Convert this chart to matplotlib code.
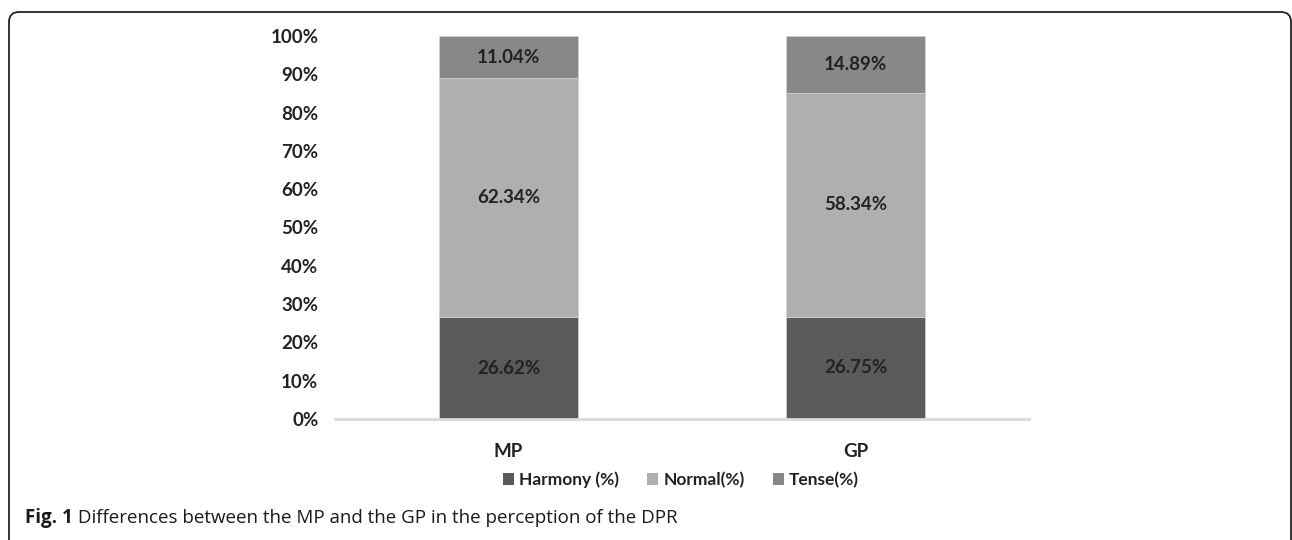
import matplotlib.pyplot as plt
import numpy as np
from matplotlib.patches import FancyBboxPatch, Patch
from matplotlib.transforms import IdentityTransform

groups = ["MP", "GP"]
harmony = [26.62, 26.75]
normal = [62.34, 58.34]
tense = [11.04, 14.89]
series_names = ["Harmony (%)", "Normal(%)", "Tense(%)"]
series_colors = ["#5a5a5a", "#afafaf", "#888888"]
y_ticks = [0, 10, 20, 30, 40, 50, 60, 70, 80, 90, 100]
caption_bold = "Fig. 1"
caption_rest = " Differences between the MP and the GP in the perception of the DPR"

plt.rcParams["font.family"] = ["Lato", "DejaVu Sans"]

fig = plt.figure(figsize=(12.92, 5.40), dpi=100)
ax = fig.add_axes([335 / 1292, 1 - 419 / 540, (1029 - 335) / 1292, (419 - 36) / 540])

x = np.arange(len(groups))
bottom = np.zeros(len(groups))
for name, vals, col in zip(series_names, [harmony, normal, tense], series_colors):
    vals = np.array(vals)
    ax.bar(x, vals, 0.4, bottom=bottom, color=col, edgecolor="#d4d4d4", linewidth=0.5, label=name)
    for xi, b, v in zip(x, bottom, vals):
        ax.text(xi, b + v / 2, f"{v:.2f}%", ha="center", va="center",
                fontsize=13.5, fontweight="bold", color="#222222")
    bottom += vals

ax.set_xlim(-0.5, 1.5)
ax.set_ylim(0, 100)
ax.set_yticks(y_ticks)
ax.set_yticklabels([f"{t}%" for t in y_ticks])
ax.set_xticks(x)
ax.set_xticklabels(groups)
for lab in ax.get_xticklabels() + ax.get_yticklabels():
    lab.set_fontweight("bold")
    lab.set_fontsize(13.5)
    lab.set_color("#222222")
ax.tick_params(axis="y", length=0, pad=12)
ax.tick_params(axis="x", length=0, pad=17)
for s in ["top", "right", "left"]:
    ax.spines[s].set_visible(False)
ax.spines["bottom"].set_color("#d9d9d9")
ax.spines["bottom"].set_linewidth(2)

handles = [Patch(facecolor=c, edgecolor="none") for c in series_colors]
leg = fig.legend(handles, series_names, loc="center", bbox_to_anchor=(681 / 1292, 1 - 480 / 540),
                 ncol=3, frameon=False, handlelength=0.65, handleheight=0.65, handletextpad=0.3,
                 columnspacing=1.6, prop={"weight": "bold", "size": 12.5})
for t in leg.get_texts():
    t.set_color("#222222")

# caption
t1 = fig.text(25 / 1292, 1 - 518 / 540, caption_bold, fontsize=13.5, fontweight="bold",
              family=["Open Sans", "DejaVu Sans"], va="center", color="#1a1a1a")
fig.canvas.draw()
bb = t1.get_window_extent()
fig.text(bb.x1 / 1292, 1 - 518 / 540, caption_rest, fontsize=13.5,
         family=["Open Sans", "DejaVu Sans"], va="center", color="#1a1a1a")

# rounded frame around the figure panel
frame = FancyBboxPatch((9, -30), 1282, 528 + 30, boxstyle="round,pad=0,rounding_size=10",
                       transform=IdentityTransform(), fill=False, edgecolor="#222222",
                       linewidth=1.3, figure=fig)
fig.patches.append(frame)

fig.savefig("out.png", dpi=100)
